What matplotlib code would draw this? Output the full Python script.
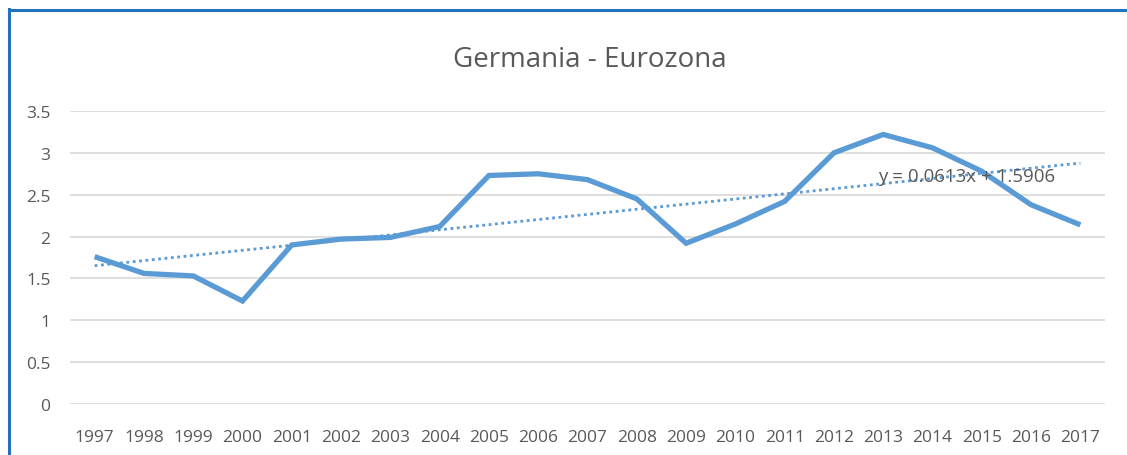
import numpy as np
import matplotlib
matplotlib.use('Agg')
import matplotlib.pyplot as plt
from matplotlib.lines import Line2D

plt.rcParams['font.family'] = ['Open Sans', 'DejaVu Sans']

# dati
years = ['1997', '1998', '1999', '2000', '2001', '2002', '2003', '2004', '2005', '2006',
         '2007', '2008', '2009', '2010', '2011', '2012', '2013', '2014', '2015', '2016', '2017']
values = [1.76, 1.56, 1.53, 1.23, 1.90, 1.97, 1.99, 2.12, 2.73, 2.75,
          2.68, 2.45, 1.92, 2.15, 2.42, 3.00, 3.22, 3.06, 2.78, 2.38, 2.14]
# linea di tendenza (Excel, x = 1..21)
trend_slope = 0.0613
trend_intercept = 1.5906
y_ticks = [0, 0.5, 1, 1.5, 2, 2.5, 3, 3.5]
y_tick_labels = ['0', '0.5', '1', '1.5', '2', '2.5', '3', '3.5']

blue = '#5B9BD5'
grey_txt = '#595959'

fig = plt.figure(figsize=(11.27, 4.56), dpi=100)
ax = fig.add_axes([70 / 1127, 1 - 405 / 456, (1105 - 70) / 1127, (405 - 112) / 456])

x = np.arange(len(years))
ax.plot(x, values, color=blue, lw=3.8, solid_joinstyle='miter', solid_capstyle='butt', zorder=3)

xt = x + 1
trend = trend_slope * xt + trend_intercept
ax.plot(x, trend, color=blue, lw=2.0, linestyle=(0, (1, 1.3)), zorder=2)
ax.text(15.9, 2.72, 'y = 0.0613x + 1.5906', color=grey_txt, fontsize=13.5,
        va='center', ha='left', zorder=4)

ax.set_xlim(-0.5, len(years) - 0.5)
ax.set_ylim(0, 3.5)
ax.set_yticks(y_ticks)
ax.set_yticklabels(y_tick_labels)
ax.set_xticks(x)
ax.set_xticklabels(years)
ax.tick_params(axis='both', length=0, labelsize=12.5, labelcolor=grey_txt)
ax.tick_params(axis='x', pad=18)
ax.tick_params(axis='y', pad=14)
ax.grid(axis='y', color='#D9D9D9', lw=1.2)
ax.set_axisbelow(True)
for s in ax.spines.values():
    s.set_visible(False)

fig.text(590 / 1127, 1 - 60 / 456, 'Germania - Eurozona', ha='center', va='center',
         fontsize=20, color=grey_txt)

# cornice blu
frame_c = '#2272BE'
fig.add_artist(Line2D([8.5 / 1127, 8.5 / 1127], [0, 1 - 10 / 456], color=frame_c, lw=2.2,
                      transform=fig.transFigure))
fig.add_artist(Line2D([8.5 / 1127, 1], [1 - 10.5 / 456, 1 - 10.5 / 456], color=frame_c, lw=2.2,
                      transform=fig.transFigure))

fig.savefig('out.png', dpi=100)
